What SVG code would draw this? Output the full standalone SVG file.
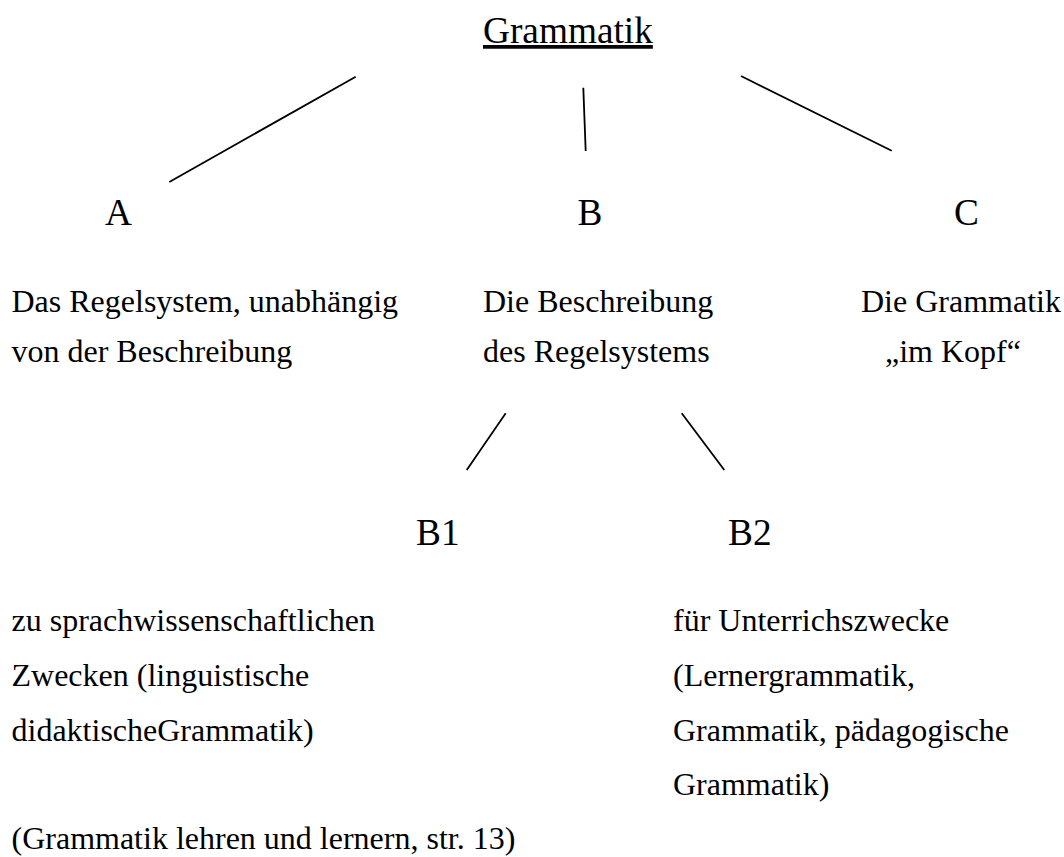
<svg xmlns="http://www.w3.org/2000/svg" width="1064" height="857" viewBox="0 0 1064 857">
  <style>
    text { font-family: "Liberation Serif", "Times New Roman", serif; fill: #000; }
    .big { font-size: 37.3px; }
    .body { font-size: 32px; }
    .conn line { stroke: #000; stroke-width: 1.8; stroke-linecap: butt; }
  </style>
  <rect width="1064" height="857" fill="#fff"/>
  <g id="connectors" class="conn">
    <line x1="355.7" y1="76.7" x2="169.3" y2="182"/>
    <line x1="583.3" y1="87.7" x2="585.7" y2="151"/>
    <line x1="741" y1="76" x2="891.7" y2="150.7"/>
    <line x1="505.7" y1="413.3" x2="466.7" y2="470"/>
    <line x1="681.7" y1="413.3" x2="724.3" y2="470"/>
  </g>
  <g id="node-grammatik">
    <text class="big" x="483" y="43" text-decoration="underline">Grammatik</text>
  </g>
  <g id="node-A">
    <text class="big" x="105" y="225">A</text>
    <text class="body" x="11.5" y="311.7">Das Regelsystem, unabhängig</text>
    <text class="body" x="11.5" y="362">von der Beschreibung</text>
  </g>
  <g id="node-B">
    <text class="big" x="577.5" y="225">B</text>
    <text class="body" x="483" y="311.7">Die Beschreibung</text>
    <text class="body" x="483" y="362">des Regelsystems</text>
  </g>
  <g id="node-C">
    <text class="big" x="954" y="225">C</text>
    <text class="body" x="861" y="311.7">Die Grammatik</text>
    <text class="body" x="885" y="362">„im Kopf“</text>
  </g>
  <g id="node-B1">
    <text class="big" x="416" y="545">B1</text>
    <text class="body" x="11.5" y="631">zu sprachwissenschaftlichen</text>
    <text class="body" x="11.5" y="686">Zwecken (linguistische</text>
    <text class="body" x="11.5" y="740.5">didaktischeGrammatik)</text>
  </g>
  <g id="node-B2">
    <text class="big" x="728" y="545">B2</text>
    <text class="body" x="673" y="631">für Unterrichszwecke</text>
    <text class="body" x="673" y="686">(Lernergrammatik,</text>
    <text class="body" x="673" y="740.5">Grammatik, pädagogische</text>
    <text class="body" x="673" y="795">Grammatik)</text>
  </g>
  <g id="source">
    <text class="body" x="11.5" y="849">(Grammatik lehren und lernern, str. 13)</text>
  </g>
</svg>
